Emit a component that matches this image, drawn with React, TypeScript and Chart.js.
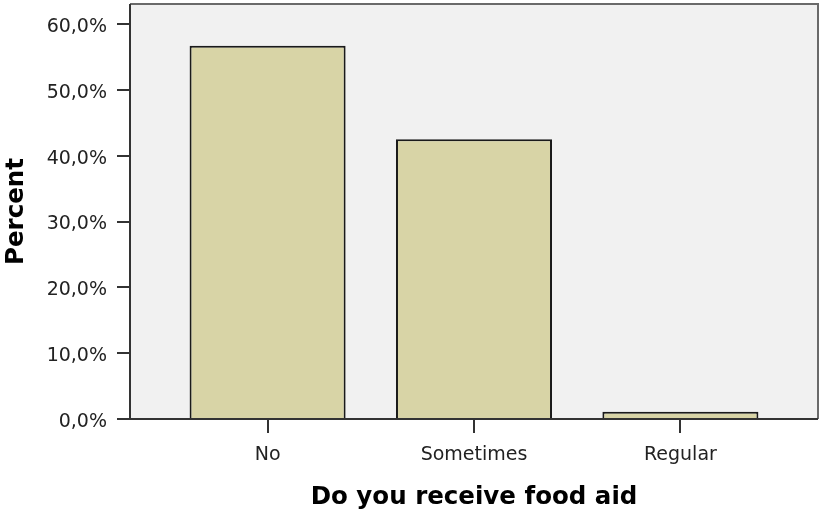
import React, { useEffect, useRef } from "react";
import { Chart, registerables } from "chart.js";

Chart.register(...registerables);

const categories: string[] = ["No", "Sometimes", "Regular"];
const percentValues: number[] = [56.7, 42.5, 1.1];
const yTickValues: number[] = [0, 10, 20, 30, 40, 50, 60];
const yAxisTitle = "Percent";
const xAxisTitle = "Do you receive food aid";

const framePlugin = {
  id: "frame",
  beforeDraw(chart: any) {
    const { ctx, chartArea } = chart;
    ctx.save();
    ctx.fillStyle = "#f1f1f1";
    ctx.fillRect(chartArea.left, chartArea.top, chartArea.right - chartArea.left, chartArea.bottom - chartArea.top);
    ctx.restore();
  },
  afterDraw(chart: any) {
    const { ctx, chartArea } = chart;
    ctx.save();
    ctx.strokeStyle = "#6a6a6a";
    ctx.lineWidth = 2;
    ctx.beginPath();
    ctx.moveTo(chartArea.left, chartArea.top);
    ctx.lineTo(chartArea.right, chartArea.top);
    ctx.lineTo(chartArea.right, chartArea.bottom);
    ctx.stroke();
    ctx.strokeStyle = "#333";
    ctx.beginPath();
    ctx.moveTo(chartArea.left, chartArea.top);
    ctx.lineTo(chartArea.left, chartArea.bottom);
    ctx.lineTo(chartArea.right, chartArea.bottom);
    ctx.stroke();
    ctx.restore();
  },
};

export default function App() {
  const ref = useRef<HTMLCanvasElement | null>(null);
  useEffect(() => {
    document.body.style.margin = "0";
    const canvas = ref.current;
    if (!canvas) return;
    const chart = new Chart(canvas, {
      type: "bar",
      data: {
        datasets: [
          {
            data: categories.map((c, i) => ({ x: i + 1, y: percentValues[i] })),
            backgroundColor: "#d8d4a6",
            borderColor: "#1a1a1a",
            borderWidth: 2,
            barPercentage: 0.756,
            categoryPercentage: 1,
          } as any,
        ],
      },
      options: {
        responsive: false,
        animation: false,
        devicePixelRatio: 1,
        layout: { padding: { top: 4, right: 2, left: 0, bottom: 0 } },
        plugins: { legend: { display: false }, tooltip: { enabled: false } },
        scales: {
          x: {
            type: "linear",
            offset: false,
            min: 1 / 3,
            max: 3 + 2 / 3,
            afterBuildTicks: (scale: any) => {
              scale.ticks = categories.map((_, i) => ({ value: i + 1 }));
            },
            afterFit: (scale: any) => {
              scale.height = 98;
              scale.paddingLeft = 0;
              scale.paddingRight = 0;
            },
            grid: {
              offset: false,
              drawOnChartArea: false,
              drawTicks: true,
              tickLength: 14,
              tickColor: "#333",
              tickWidth: 2,
              lineWidth: 2,
            },
            border: { display: false },
            ticks: {
              padding: 11,
              color: "#222",
              font: { family: "DejaVu Sans", size: 19 },
              maxRotation: 0,
              autoSkip: false,
              callback: (v: any) => categories[Math.round(Number(v)) - 1] ?? "",
            },
            title: {
              display: true,
              text: xAxisTitle,
              color: "#000",
              font: { family: "DejaVu Sans", size: 24.5, weight: "bold" },
              padding: { top: 0, bottom: 5 },
            },
          },
          y: {
            type: "linear",
            min: 0,
            max: 60 * 415 / 395,
            afterBuildTicks: (scale: any) => {
              scale.ticks = yTickValues.map((v) => ({ value: v }));
            },
            afterFit: (scale: any) => {
              scale.width = 130;
              scale.paddingTop = 0;
              scale.paddingBottom = 0;
            },
            grid: {
              drawOnChartArea: false,
              drawTicks: true,
              tickLength: 13,
              tickColor: "#333",
              tickWidth: 2,
              lineWidth: 2,
            },
            border: { display: false },
            ticks: {
              padding: 10,
              labelOffset: 3,
              color: "#222",
              font: { family: "DejaVu Sans", size: 19 },
              callback: (v: any) => Number(v).toFixed(1).replace(".", ",") + "%",
            },
            title: {
              display: true,
              text: yAxisTitle,
              color: "#000",
              font: { family: "DejaVu Sans", size: 24.5, weight: "bold" },
              padding: { top: 2, bottom: 0 },
            },
          },
        },
      },
      plugins: [framePlugin],
    });
    return () => chart.destroy();
  }, []);
  return (
    <canvas
      ref={ref}
      width={820}
      height={517}
      style={{ display: "block", width: "820px", height: "517px" }}
    />
  );
}
